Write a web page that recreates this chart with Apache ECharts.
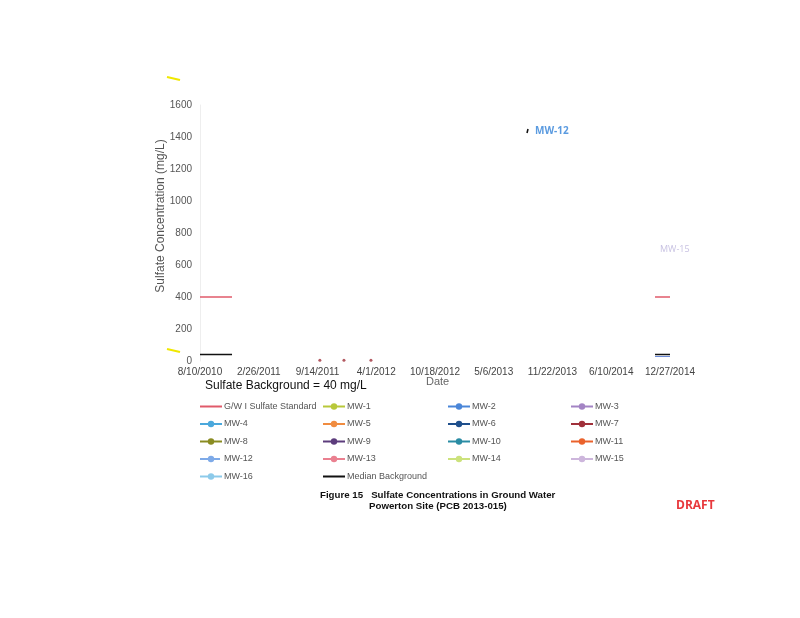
<!DOCTYPE html>
<html><head><meta charset="utf-8">
<script src="https://cdn.jsdelivr.net/npm/echarts@6/dist/echarts.min.js"></script>
<style>html,body{margin:0;padding:0;background:#fff}#c{width:800px;height:618px}</style>
</head><body><div id="c"></div>
<script>
// x values are days since 8/10/2010
const baseDate = [2010, 7, 10];
const xTicks = [0, 200, 400, 600, 800, 1000, 1200, 1400, 1600];
const yTicks = [0, 200, 400, 600, 800, 1000, 1200, 1400, 1600];
const seriesNames = ['G/W I Sulfate Standard','MW-1','MW-2','MW-3','MW-4','MW-5','MW-6','MW-7','MW-8','MW-9','MW-10','MW-11','MW-12','MW-13','MW-14','MW-15','MW-16','Median Background'];
const seriesColors = ['#e05a6a','#b8c83a','#4a86d8','#a384c4','#4ba8dc','#f08c40','#1f4f8c','#a0303a','#8a8c22','#5c3c7c','#2a8ca4','#ea622c','#7eaae8','#ea8090','#cce27c','#cdb6dc','#8ccaea','#111111'];
// visible segments of the reference lines (left and right edges)
const standardLeft = [[0, 400], [109, 400]];
const standardRight = [[1549, 400], [1600, 400]];
const medianLeft = [[0, 40], [109, 40]];
const medianRight = [[1549, 40], [1600, 40]];
const mw6Right = [[1549, 28], [1600, 28]];
const mw7Points = [[408, 4], [490, 4], [582, 4]];

function fmt(v){
  const d = new Date(Date.UTC(baseDate[0], baseDate[1], baseDate[2]) + v*86400000);
  return (d.getUTCMonth()+1)+'/'+d.getUTCDate()+'/'+d.getUTCFullYear();
}

const series = [];
seriesNames.forEach((n,i)=>{
  const isStd = i===0, isMed = i===17;
  const s = {name:n, type:'line', color:seriesColors[i], data:[],
    symbol: (isStd||isMed)?'none':'circle', symbolSize:5,
    lineStyle:{width:1.5, color:seriesColors[i], type: n==='MW-12'?'dashed':'solid'},
    itemStyle:{color:seriesColors[i]}, animation:false, silent:true};
  if(isStd) s.data = standardLeft;
  if(isMed) s.data = medianLeft;
  series.push(s);
});
series.push({name:'G/W I Sulfate Standard', type:'line', data:standardRight, symbol:'none', lineStyle:{width:1.5,color:seriesColors[0]}, animation:false});
series.push({name:'Median Background', type:'line', data:medianRight, symbol:'none', lineStyle:{width:1.5,color:'#111'}, animation:false});
series.push({name:'MW-6', type:'line', data:mw6Right, symbol:'none', lineStyle:{width:1,color:'#6a8ad8'}, animation:false});
series.push({name:'MW-7', type:'scatter', data:mw7Points, symbolSize:3, itemStyle:{color:seriesColors[7]}, animation:false});

const cols = [
  ['G/W I Sulfate Standard','MW-4','MW-8','MW-12','MW-16'],
  ['MW-1','MW-5','MW-9','MW-13','Median Background'],
  ['MW-2','MW-6','MW-10','MW-14'],
  ['MW-3','MW-7','MW-11','MW-15']
];
const noSymbol = ['G/W I Sulfate Standard','Median Background'];
const colLeft = [199, 322, 447, 570];
const legends = cols.map((c,i)=>({
  data:c.map(n=> noSymbol.includes(n) ? {name:n, itemStyle:{opacity:0}} : n),
  orient:'vertical', left:colLeft[i], top:402, padding:0, itemWidth:22, itemHeight:8, itemGap:8.5,
  textStyle:{fontSize:9, color:'#555', fontFamily:'Liberation Sans, Arial', padding:[0,0,0,-3]},
  selectedMode:false
}));

const chart = echarts.init(document.getElementById('c'), null, {renderer:'canvas'});
chart.setOption({
  backgroundColor:'#fff',
  animation:false,
  grid:{left:200, right:130, top:105, bottom:257, containLabel:false},
  xAxis:{type:'value', min:0, max:1600, interval:200,
    axisLine:{show:false}, axisTick:{show:false}, splitLine:{show:false},
    axisLabel:{formatter:fmt, fontSize:10, color:'#444', margin:6, fontFamily:'Liberation Sans, Arial', showMinLabel:true, showMaxLabel:true}},
  yAxis:{type:'value', min:0, max:1600, interval:200,
    axisLine:{show:true, lineStyle:{color:'#eee'}}, axisTick:{show:false}, splitLine:{show:false},
    axisLabel:{formatter:v=>String(v), fontSize:10, color:'#555', margin:8, fontFamily:'Liberation Sans, Arial'}},
  legend:legends,
  series:series,
  graphic:[
    {type:'text', x:161, y:216, rotation:Math.PI/2, style:{text:'Sulfate Concentration (mg/L)', fontSize:12, fill:'#555', align:'center', verticalAlign:'middle', fontFamily:'Liberation Sans, Arial'}},
    {type:'text', left:426, top:376, style:{text:'Date', fontSize:11, fill:'#666', fontFamily:'Liberation Sans, Arial'}},
    {type:'text', left:205, top:380, style:{text:'Sulfate Background = 40 mg/L', fontSize:12, fill:'#111', fontFamily:'Liberation Sans, Arial'}},
    {type:'text', left:535, top:126, style:{text:'MW-12', fontSize:10, fill:'#5b9be0', fontWeight:'bold', fontFamily:'Open Sans, Liberation Sans'}},
    {type:'text', left:660, top:245, style:{text:'MW-15', fontSize:9, fill:'#c8c2e2', fontFamily:'Open Sans, Liberation Sans'}},
    {type:'line', shape:{x1:527,y1:133,x2:528,y2:129}, style:{stroke:'#111', lineWidth:1.5}},
    {type:'line', shape:{x1:167,y1:77,x2:180,y2:80}, style:{stroke:'#f0e800', lineWidth:2}},
    {type:'line', shape:{x1:167,y1:349,x2:180,y2:352}, style:{stroke:'#f0e800', lineWidth:2}},
    {type:'text', left:320, top:490, style:{text:'Figure 15   Sulfate Concentrations in Ground Water', fontSize:9.7, fontWeight:'bold', fill:'#111', fontFamily:'Liberation Sans, Arial'}},
    {type:'text', left:369, top:501, style:{text:'Powerton Site (PCB 2013-015)', fontSize:9.7, fontWeight:'bold', fill:'#111', fontFamily:'Liberation Sans, Arial'}},
    {type:'text', left:676, top:500, style:{text:'DRAFT', fontSize:12, fontWeight:'bold', fill:'#e8383c', fontFamily:'Open Sans, Liberation Sans'}}
  ]
});
</script></body></html>
